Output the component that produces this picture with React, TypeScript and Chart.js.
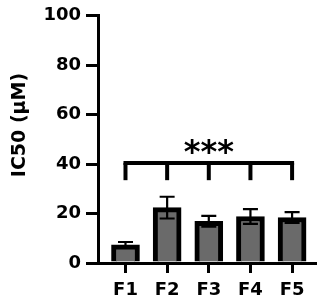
import React, { useEffect, useRef } from "react";
import { Chart, registerables } from "chart.js";

Chart.register(...registerables);

const categories = ["F1", "F2", "F3", "F4", "F5"];
const ic50 = [7.3, 22.4, 16.9, 18.8, 18.4];
const sem = [1.2, 4.4, 2.2, 3.0, 2.2];
const yTicks = [0, 20, 40, 60, 80, 100];
const bracketLevel = 40.5;
const bracketTickEnd = 33.5;
const significance = "***";
const yTitle = "IC50 (μM)";

const FONT = "'DejaVu Sans', sans-serif";

const overlayPlugin = {
  id: "overlay",
  afterDatasetsDraw(chart: any) {
    const ctx = chart.ctx;
    const xs = chart.scales.x;
    const ys = chart.scales.y;
    ctx.save();
    // error bars
    ctx.strokeStyle = "#000";
    ctx.lineWidth = 2.2;
    const capHalf = 7.5;
    ic50.forEach((v, i) => {
      const x = xs.getPixelForValue(i);
      const yTop = ys.getPixelForValue(v + sem[i]);
      const yBot = ys.getPixelForValue(v - sem[i]);
      ctx.beginPath();
      ctx.moveTo(x, yTop);
      ctx.lineTo(x, yBot);
      ctx.moveTo(x - capHalf, yTop);
      ctx.lineTo(x + capHalf, yTop);
      ctx.moveTo(x - capHalf, yBot);
      ctx.lineTo(x + capHalf, yBot);
      ctx.stroke();
    });
    // significance bracket
    ctx.lineWidth = 4;
    ctx.lineCap = "butt";
    const yb = ys.getPixelForValue(bracketLevel);
    const yt = ys.getPixelForValue(bracketTickEnd);
    const x0 = xs.getPixelForValue(0);
    const x1 = xs.getPixelForValue(categories.length - 1);
    ctx.beginPath();
    ctx.moveTo(x0 - 2, yb);
    ctx.lineTo(x1 + 2, yb);
    ctx.stroke();
    categories.forEach((_, i) => {
      const x = xs.getPixelForValue(i);
      ctx.beginPath();
      ctx.moveTo(x, yb);
      ctx.lineTo(x, yt);
      ctx.stroke();
    });
    // asterisks
    ctx.fillStyle = "#000";
    ctx.font = `bold 32px ${FONT}`;
    ctx.textAlign = "center";
    ctx.textBaseline = "alphabetic";
    const m = ctx.measureText(significance);
    const cx = xs.getPixelForValue((categories.length - 1) / 2);
    const cy = ys.getPixelForValue(47.2);
    const glyphH = m.actualBoundingBoxAscent - m.actualBoundingBoxDescent;
    ctx.fillText(significance, cx, cy + glyphH / 2);
    // y title
    ctx.font = `bold 19px ${FONT}`;
    ctx.translate(20, 125);
    ctx.rotate(-Math.PI / 2);
    ctx.textAlign = "center";
    ctx.textBaseline = "middle";
    ctx.fillText(yTitle, 0, 0);
    ctx.restore();
  },
};

export default function App() {
  const canvasRef = useRef<HTMLCanvasElement | null>(null);

  useEffect(() => {
    if (!canvasRef.current) return;
    const chart = new Chart(canvasRef.current, {
      type: "bar",
      data: {
        datasets: [
          {
            data: ic50.map((v, i) => ({ x: i, y: v })),
            backgroundColor: "#6a6a6a",
            borderColor: "#000",
            borderWidth: 5,
            barThickness: 28,
          },
        ],
      },
      plugins: [overlayPlugin],
      options: {
        animation: false,
        responsive: true,
        maintainAspectRatio: false,
        layout: { padding: { top: 10, right: 10, left: 0, bottom: 0 } },
        plugins: {
          legend: { display: false },
          tooltip: { enabled: false },
        },
        scales: {
          x: {
            type: "linear",
            offset: false,
            min: -0.66,
            max: 4.55,
            afterBuildTicks: (scale: any) => {
              scale.ticks = categories.map((_, i) => ({ value: i }));
            },
            afterFit: (scale: any) => {
              scale.height = 34;
            },
            ticks: {
              callback: (v: any) => categories[v] ?? "",
              color: "#000",
              font: { family: FONT, weight: "bold", size: 18 },
              padding: 7,
              maxRotation: 0,
              autoSkip: false,
            },
            grid: {
              display: true,
              offset: false,
              drawOnChartArea: false,
              drawTicks: true,
              tickLength: 10,
              lineWidth: 3,
              color: "#000",
            },
            border: { display: true, color: "#000", width: 3 },
          },
          y: {
            min: 0,
            max: 100,
            afterBuildTicks: (scale: any) => {
              scale.ticks = yTicks.map((v) => ({ value: v }));
            },
            afterFit: (scale: any) => {
              scale.width = 98;
            },
            ticks: {
              color: "#000",
              font: { family: FONT, weight: "bold", size: 18 },
              padding: 5,
            },
            grid: {
              display: true,
              drawOnChartArea: false,
              drawTicks: true,
              tickLength: 12,
              lineWidth: 3,
              color: "#000",
            },
            border: { display: true, color: "#000", width: 3 },
          },
        },
      },
    } as any);
    return () => chart.destroy();
  }, []);

  return (
    <div
      style={{
        position: "absolute",
        left: 0,
        top: 0,
        width: 325,
        height: 297,
        background: "#fff",
      }}
    >
      <canvas ref={canvasRef} />
    </div>
  );
}
